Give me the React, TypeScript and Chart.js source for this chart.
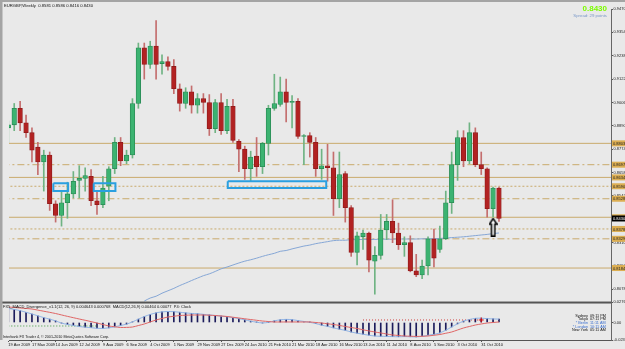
import React, { useEffect, useRef } from "react";
import { Chart, registerables } from "chart.js";
Chart.register(...registerables);

// ---- data (bar 0 = week of 19 Apr 2009, weekly bars) ----
const dateTicks = ["19 Apr 2009","17 May 2009","14 Jun 2009","12 Jul 2009","9 Aug 2009","6 Sep 2009","4 Oct 2009","1 Nov 2009","29 Nov 2009","27 Dec 2009","24 Jan 2010","21 Feb 2010","21 Mar 2010","18 Apr 2010","16 May 2010","13 Jun 2010","11 Jul 2010","8 Aug 2010","5 Sep 2010","3 Oct 2010","31 Oct 2010"];

const opens = [0.8880,0.8895,0.8977,0.8905,0.8856,0.8784,0.8711,0.8745,0.8503,0.8445,0.8508,0.8552,0.8619,0.8629,0.8639,0.8518,0.8498,0.8590,0.8677,0.8808,0.8716,0.8745,0.9001,0.9277,0.9195,0.9286,0.9199,0.9209,0.9185,0.9074,0.9001,0.9059,0.8992,0.9025,0.9006,0.8876,0.9006,0.8866,0.8987,0.8813,0.8774,0.8677,0.8740,0.8687,0.8803,0.8977,0.8996,0.9059,0.9006,0.9011,0.8837,0.8842,0.8808,0.8677,0.8692,0.8682,0.8528,0.8653,0.8484,0.8262,0.8339,0.8358,0.8218,0.8247,0.8373,0.8416,0.8358,0.8300,0.8310,0.8170,0.8150,0.8194,0.8329,0.8276,0.8329,0.8508,0.8697,0.8832,0.8716,0.8856,0.8697,0.8677,0.8479,0.8581];
const highs = [0.8914,0.9001,0.9011,0.8943,0.8880,0.8808,0.8769,0.8760,0.8518,0.8566,0.8610,0.8663,0.8692,0.8682,0.8673,0.8566,0.8639,0.8687,0.8832,0.8832,0.8769,0.9025,0.9301,0.9301,0.9310,0.9412,0.9243,0.9233,0.9219,0.9098,0.9079,0.9088,0.9050,0.9050,0.9045,0.9021,0.9050,0.9021,0.9021,0.8822,0.8789,0.8764,0.8832,0.8808,0.8992,0.9146,0.9132,0.9122,0.9040,0.9025,0.8847,0.8856,0.8832,0.8774,0.8798,0.8760,0.8760,0.8663,0.8494,0.8363,0.8373,0.8363,0.8291,0.8450,0.8450,0.8523,0.8407,0.8339,0.8344,0.8252,0.8223,0.8339,0.8378,0.8392,0.8566,0.8760,0.8866,0.8866,0.8905,0.8880,0.8760,0.8682,0.8586,0.8586];
const lows = [0.8808,0.8866,0.8866,0.8832,0.8711,0.8648,0.8566,0.8470,0.8412,0.8392,0.8431,0.8532,0.8532,0.8566,0.8494,0.8450,0.8484,0.8518,0.8653,0.8692,0.8702,0.8730,0.8977,0.9122,0.9175,0.9122,0.9146,0.9166,0.9050,0.8963,0.8977,0.8953,0.8953,0.8953,0.8842,0.8856,0.8847,0.8851,0.8808,0.8663,0.8624,0.8615,0.8639,0.8653,0.8745,0.8967,0.8987,0.8909,0.8880,0.8827,0.8697,0.8735,0.8639,0.8624,0.8615,0.8445,0.8484,0.8412,0.8242,0.8199,0.8276,0.8165,0.8054,0.8228,0.8325,0.8310,0.8276,0.8242,0.8165,0.8141,0.8131,0.8150,0.8189,0.8262,0.8325,0.8455,0.8619,0.8687,0.8702,0.8687,0.8648,0.8436,0.8436,0.8416];
const closes = [0.8895,0.8977,0.8905,0.8856,0.8769,0.8711,0.8745,0.8503,0.8445,0.8508,0.8552,0.8615,0.8629,0.8643,0.8518,0.8498,0.8581,0.8677,0.8808,0.8716,0.8745,0.9001,0.9277,0.9195,0.9286,0.9195,0.9209,0.9185,0.9074,0.9001,0.9059,0.8992,0.9025,0.9006,0.8876,0.9006,0.8866,0.8987,0.8818,0.8774,0.8677,0.8735,0.8687,0.8803,0.8977,0.9001,0.9059,0.9006,0.9011,0.8837,0.8842,0.8808,0.8677,0.8692,0.8682,0.8528,0.8648,0.8484,0.8262,0.8344,0.8358,0.8223,0.8247,0.8373,0.8416,0.8358,0.8300,0.8310,0.8170,0.8150,0.8194,0.8329,0.8233,0.8329,0.8508,0.8697,0.8832,0.8716,0.8856,0.8697,0.8677,0.8479,0.8581,0.8430];

const maStart = 23;
const maValues = [0.8020,0.8035,0.8044,0.8059,0.8071,0.8083,0.8097,0.8109,0.8122,0.8134,0.8146,0.8155,0.8167,0.8180,0.8189,0.8199,0.8209,0.8218,0.8225,0.8233,0.8242,0.8250,0.8257,0.8267,0.8271,0.8279,0.8286,0.8293,0.8298,0.8305,0.8310,0.8315,0.8320,0.8322,0.8322,0.8325,0.8325,0.8326,0.8326,0.8326,0.8327,0.8327,0.8327,0.8328,0.8328,0.8328,0.8328,0.8329,0.8329,0.8330,0.8331,0.8333,0.8335,0.8337,0.8339,0.8342,0.8345,0.8348,0.8351,0.8355,0.8358];

const macdMain = [0.0190,0.0176,0.0160,0.0138,0.0115,0.0090,0.0066,0.0045,0.0022,-0.0008,-0.0025,-0.0040,-0.0054,-0.0063,-0.0070,-0.0078,-0.0080,-0.0072,-0.0058,-0.0040,-0.0022,0.0008,0.0045,0.0080,0.0108,0.0130,0.0143,0.0148,0.0146,0.0138,0.0130,0.0122,0.0118,0.0110,0.0102,0.0095,0.0085,0.0078,0.0066,0.0052,0.0036,0.0018,0.0004,-0.0006,0.0002,0.0022,0.0036,0.0042,0.0038,0.0026,0.0014,0.0002,-0.0014,-0.0036,-0.0052,-0.0072,-0.0090,-0.0106,-0.0128,-0.0144,-0.0158,-0.0172,-0.0182,-0.0186,-0.0188,-0.0190,-0.0192,-0.0190,-0.0192,-0.0194,-0.0186,-0.0172,-0.0160,-0.0140,-0.0104,-0.0060,-0.0018,0.0018,0.0040,0.0056,0.0058,0.0052,0.0048,0.0046];
const macdSignal = [0.0209,0.0203,0.0196,0.0189,0.0182,0.0167,0.0152,0.0137,0.0121,0.0102,0.0083,0.0065,0.0047,0.0030,0.0012,-0.0007,-0.0027,-0.0047,-0.0058,-0.0067,-0.0066,-0.0061,-0.0041,-0.0020,0.0007,0.0034,0.0054,0.0074,0.0084,0.0094,0.0098,0.0101,0.0101,0.0101,0.0098,0.0094,0.0088,0.0081,0.0071,0.0061,0.0050,0.0040,0.0030,0.0020,0.0013,0.0007,0.0007,0.0007,0.0007,0.0007,0.0007,0.0007,0.0000,-0.0007,-0.0017,-0.0027,-0.0040,-0.0054,-0.0068,-0.0081,-0.0098,-0.0114,-0.0128,-0.0141,-0.0155,-0.0168,-0.0175,-0.0182,-0.0185,-0.0188,-0.0186,-0.0182,-0.0172,-0.0162,-0.0145,-0.0128,-0.0101,-0.0074,-0.0054,-0.0034,-0.0020,-0.0007,0.0000,0.0007];

const divGreen = [{ x: 0, y: -0.0047 }, { x: 15, y: -0.0047 }];
const divRed = [{ x: 60, y: 0.0034 }, { x: 79.6, y: 0.0034 }];
const macdMarker = [{ x: 80, y: 0.0034 }];

const levelPrices = [0.8803, 0.8697, 0.8634, 0.8590, 0.8528, 0.8436, 0.8378, 0.8329, 0.8184];
const levelKinds = ["solid", "dashdot", "solid", "dotted", "dashdot", "solid", "dotted", "dashdot", "solid"];

const boxFrom = [7.62, 14.45, 37.12];
const boxTo = [10.12, 18.12, 53.78];
const boxTop = [0.8605, 0.8605, 0.8615];
const boxBottom = [0.8566, 0.8566, 0.8581];

const arrowPoint = [{ x: 82, y: 0.8387 }];

const priceTicks = [0.9470,0.9412,0.9354,0.9296,0.9238,0.9180,0.9122,0.9064,0.9006,0.8948,0.8890,0.8832,0.8774,0.8716,0.8658,0.8600,0.8542,0.8484,0.8426,0.8368,0.8310,0.8252,0.8194,0.8136,0.8078,0.8020];
const macdTicks = [0.0276, 0, -0.0236];
const macdTickLabels = ["0.0276", "0.00", "-0.0236"];

const lastPrice = 0.8430;
const headerText = "EURGBP,Weekly  0.8581 0.8586 0.8416 0.8430";
const spreadText = "Spread: 29 points";
const macdTitle = "FX5_MACD_Divergence_v1.1(12, 26, 9) 0.004643 0.000768  MACD(12,26,9) 0.00464 0.00077  P4: Clock";
const copyright = "Interbank FX Trader 4, \u00A9 2001-2010 MetaQuotes Software Corp.";
const clockCities = ["Sydney", "Tokyo", "* Berlin", "* London", "New York"];
const clockTimes = ["09:11 PM", "07:11 PM", "11:11 AM", "10:11 AM", "05:11 AM"];
const clockColors = ["#111", "#111", "#3b6fd0", "#3b6fd0", "#111"];

const FONT = '"Liberation Sans", Arial, sans-serif';
const BG = "#e9e9e9";
const LEVEL_COLOR = "#c9aa6c";

function makeArrow(): HTMLCanvasElement {
  const c = document.createElement("canvas");
  c.width = 9; c.height = 19;
  const g = c.getContext("2d")!;
  g.beginPath();
  g.moveTo(4.5, 0.8); g.lineTo(8.2, 6.5); g.lineTo(6.2, 6.5); g.lineTo(6.2, 18.2);
  g.lineTo(2.8, 18.2); g.lineTo(2.8, 6.5); g.lineTo(0.8, 6.5); g.closePath();
  g.fillStyle = "#ffffff"; g.fill();
  g.lineWidth = 1.5; g.strokeStyle = "#000"; g.stroke();
  return c;
}

export default function App() {
  const ref = useRef<HTMLCanvasElement>(null);
  useEffect(() => {
    const canvas = ref.current!;
    const idx = opens.map((_, j) => j);
    const up = idx.map((j) => closes[j] >= opens[j]);

    const datasets: any[] = [];
    levelPrices.forEach((p, k) => {
      const kind = levelKinds[k];
      datasets.push({
        type: "line", yAxisID: "y", order: 10,
        data: [{ x: -1, y: p }, { x: 103, y: p }],
        borderColor: LEVEL_COLOR, borderWidth: 1, pointRadius: 0,
        borderDash: kind === "dashdot" ? [7, 3, 2, 3] : kind === "dotted" ? [2, 2] : [],
      });
    });
    datasets.push({
      type: "line", yAxisID: "y", order: 6,
      data: maValues.map((v, k) => ({ x: maStart + k, y: v })),
      borderColor: "#86a7d6", borderWidth: 1, pointRadius: 0, tension: 0.3,
    });
    datasets.push({
      type: "bar", yAxisID: "y", order: 5, grouped: false, barThickness: 1,
      data: idx.map((j) => ({ x: j, y: [lows[j], highs[j]] })),
      backgroundColor: idx.map((j) => (up[j] ? "#6fb383" : "#c46e6e")),
    });
    datasets.push({
      type: "bar", yAxisID: "y", order: 4, grouped: false, barThickness: 4.6, minBarLength: 1,
      data: idx.map((j) => ({ x: j, y: [opens[j], closes[j]] })),
      backgroundColor: idx.map((j) => (up[j] ? "#3cb371" : "#b22222")),
      borderColor: idx.map((j) => (up[j] ? "#2a8a55" : "#8e1a1a")),
      borderWidth: 0.8, borderSkipped: false,
    });
    boxFrom.forEach((x1, k) => {
      const x2 = boxTo[k];
      datasets.push({
        type: "line", yAxisID: "y", order: 3,
        data: [{ x: x1, y: boxTop[k] }, { x: x2, y: boxTop[k] }, { x: x2, y: boxBottom[k] }, { x: x1, y: boxBottom[k] }, { x: x1, y: boxTop[k] }],
        borderColor: "#2a9fe0", borderWidth: 2, pointRadius: 0,
      });
    });
    datasets.push({
      type: "line", yAxisID: "y", order: 1, showLine: false,
      data: arrowPoint, pointStyle: makeArrow(), pointRadius: 8,
    });
    // MACD panel
    datasets.push({
      type: "bar", yAxisID: "y2", order: 5, grouped: false, barThickness: 1,
      data: idx.map((j) => ({ x: j, y: macdMain[j] })),
      backgroundColor: "#1c1c5c",
    });
    datasets.push({
      type: "line", yAxisID: "y2", order: 4,
      data: divGreen, borderColor: "#3c9a3c", borderWidth: 1, borderDash: [1, 2], pointRadius: 0,
    });
    datasets.push({
      type: "line", yAxisID: "y2", order: 4,
      data: divRed, borderColor: "#d04040", borderWidth: 1, borderDash: [1, 2], pointRadius: 0,
    });
    datasets.push({
      type: "line", yAxisID: "y2", order: 3,
      data: idx.map((j) => ({ x: j, y: macdMain[j] })),
      borderColor: "#8fb3e6", borderWidth: 1, pointRadius: 0, tension: 0.3,
    });
    datasets.push({
      type: "line", yAxisID: "y2", order: 2,
      data: idx.map((j) => ({ x: j, y: macdSignal[j] })),
      borderColor: "#e06666", borderWidth: 1, pointRadius: 0, tension: 0.3,
    });
    datasets.push({
      type: "line", yAxisID: "y2", order: 1, showLine: false,
      data: macdMarker, pointStyle: "cross", pointRadius: 2.5, borderColor: "#e01010", borderWidth: 1,
    });

    const text = (ctx: CanvasRenderingContext2D, s: string, x: number, y: number, size: number, color: string, align: CanvasTextAlign = "left", bold = false) => {
      ctx.font = `${bold ? "bold " : ""}${size}px ${FONT}`;
      ctx.fillStyle = color;
      ctx.textAlign = align;
      ctx.textBaseline = "alphabetic";
      ctx.fillText(s, x, y);
    };

    const deco = {
      id: "deco",
      beforeDraw(chart: any) {
        const ctx = chart.ctx;
        ctx.save();
        ctx.fillStyle = BG;
        ctx.fillRect(0, 0, chart.width, chart.height);
        ctx.restore();
      },
      afterDraw(chart: any) {
        const ctx: CanvasRenderingContext2D = chart.ctx;
        const y = chart.scales.y;
        const ca = chart.chartArea;
        ctx.save();
        // panel separator
        ctx.fillStyle = "#555";
        ctx.fillRect(0, y.bottom - 0.5, ca.right, 2);
        // frame
        ctx.fillStyle = "#a4a4a4";
        ctx.fillRect(0, 0, chart.width, 2);
        ctx.fillRect(0, 0, 2.5, ca.bottom);
        // axis price labels for levels
        const tag = (p: number, bg: string, fg: string) => {
          const py = y.getPixelForValue(p);
          ctx.fillStyle = bg;
          ctx.fillRect(ca.right + 1, py - 3, 14, 6);
          text(ctx, p.toFixed(4), ca.right + 2, py + 1.6, 4, fg);
        };
        levelPrices.forEach((p) => tag(p, "#dcae52", "#222"));
        tag(lastPrice, "#000", "#fff");
        // texts
        text(ctx, headerText, 4, 6.5, 4.2, "#111");
        text(ctx, lastPrice.toFixed(4), 607, 11, 8, "#7cfc00", "right", true);
        text(ctx, spreadText, 607, 16.5, 4.3, "#7a98c8", "right");
        text(ctx, macdTitle, 3, y.bottom + 6, 4, "#111");
        text(ctx, copyright, 3, ca.bottom - 2, 3.7, "#111");
        clockCities.forEach((c, k) => {
          const yy = 316.5 + k * 3.7;
          text(ctx, c, 588, yy, 3.8, clockColors[k], "right");
          text(ctx, clockTimes[k], 590, yy, 3.8, clockColors[k], "left");
        });
        ctx.restore();
      },
    };

    const chart = new Chart(canvas, {
      type: "bar",
      data: { datasets },
      options: {
        animation: false,
        responsive: false,
        devicePixelRatio: 1,
        layout: { padding: { top: 3, left: 0, right: 0, bottom: 0 } },
        plugins: { legend: { display: false }, tooltip: { enabled: false } },
        scales: {
          x: {
            type: "linear", position: "bottom", min: 0.117, max: 101.95, offset: false,
            grid: { display: true, drawOnChartArea: false, offset: false, tickLength: 2, color: "#555" },
            border: { display: true, color: "#555" },
            ticks: {
              autoSkip: false, maxRotation: 0, align: "start", padding: 0,
              font: { size: 4, family: FONT }, color: "#111",
              callback: (v: any) => dateTicks[Math.round(Number(v) / 4)] ?? "",
            },
            afterBuildTicks: (s: any) => { s.ticks = dateTicks.map((_, k) => ({ value: k * 4 })); },
            afterFit: (s: any) => { s.height = 6; },
          },
          y: {
            type: "linear", position: "right", stack: "panes", stackWeight: 301,
            min: 0.80152, max: 0.9470,
            grid: { display: true, drawOnChartArea: false, tickLength: 2, color: "#555" },
            border: { display: true, color: "#666" },
            ticks: { padding: 0.5, font: { size: 4, family: FONT }, color: "#222", callback: (v: any) => Number(v).toFixed(4) },
            afterBuildTicks: (s: any) => { s.ticks = priceTicks.map((v) => ({ value: v })); },
            afterFit: (s: any) => { s.width = 14; },
          },
          y2: {
            type: "linear", position: "right", stack: "panes", stackWeight: 39,
            min: -0.0236, max: 0.0276,
            grid: { display: true, drawOnChartArea: false, tickLength: 2, color: "#555" },
            border: { display: true, color: "#666" },
            ticks: { padding: 0.5, font: { size: 4, family: FONT }, color: "#222", callback: (v: any) => macdTickLabels[macdTicks.indexOf(Number(v))] ?? "" },
            afterBuildTicks: (s: any) => { s.ticks = macdTicks.map((v) => ({ value: v })); },
            afterFit: (s: any) => { s.width = 14; },
          },
        },
      } as any,
      plugins: [deco],
    });
    return () => chart.destroy();
  }, []);
  return (
    <div style={{ position: "fixed", left: 0, top: 0, width: 625, height: 349, background: BG }}>
      <canvas ref={ref} width={625} height={349} style={{ display: "block", width: 625, height: 349 }} />
    </div>
  );
}
